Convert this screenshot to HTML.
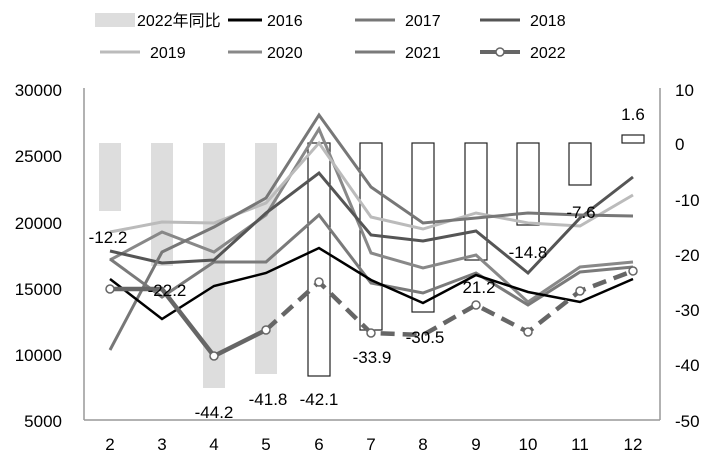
<!DOCTYPE html>
<html><head><meta charset="utf-8"><style>
html,body{margin:0;padding:0;background:#fff;}
text{font-family:"Liberation Sans","Noto Sans CJK SC",sans-serif;}
</style></head><body>
<svg width="710" height="466" viewBox="0 0 710 466" xmlns="http://www.w3.org/2000/svg">
<!-- legend -->
<rect x="95" y="13" width="40" height="14" fill="#ddd"/>
<text x="137" y="26" font-size="16">2022年同比</text>
<line x1="228" y1="20" x2="262" y2="20" stroke="#000" stroke-width="3"/>
<text x="267" y="26" font-size="16">2016</text>
<line x1="355" y1="20" x2="395" y2="20" stroke="#777" stroke-width="3"/>
<text x="405" y="26" font-size="16">2017</text>
<line x1="480" y1="20" x2="520" y2="20" stroke="#555" stroke-width="3"/>
<text x="530" y="26" font-size="16">2018</text>
<line x1="100" y1="52" x2="140" y2="52" stroke="#bbb" stroke-width="3"/>
<text x="150" y="58" font-size="16">2019</text>
<line x1="228" y1="52" x2="262" y2="52" stroke="#888" stroke-width="3"/>
<text x="267" y="58" font-size="16">2020</text>
<line x1="355" y1="52" x2="395" y2="52" stroke="#7a7a7a" stroke-width="3"/>
<text x="405" y="58" font-size="16">2021</text>
<line x1="480" y1="52" x2="520" y2="52" stroke="#666" stroke-width="4"/>
<circle cx="500" cy="52" r="4" fill="#fff" stroke="#666" stroke-width="1.5"/>
<text x="530" y="58" font-size="16">2022</text>

<!-- axes -->
<line x1="84" y1="88" x2="84" y2="420" stroke="#999" stroke-width="1.5"/>
<line x1="84" y1="420" x2="660" y2="420" stroke="#999" stroke-width="1.5"/>
<line x1="660" y1="88" x2="660" y2="420" stroke="#999" stroke-width="1.5"/>
<g font-size="17" text-anchor="end">
<text x="62" y="96">30000</text><text x="62" y="162">25000</text><text x="62" y="229">20000</text>
<text x="62" y="295">15000</text><text x="62" y="361">10000</text><text x="62" y="427">5000</text>
</g>
<g font-size="17" text-anchor="start">
<text x="675" y="96">10</text><text x="675" y="150">0</text><text x="675" y="206">-10</text>
<text x="675" y="261">-20</text><text x="675" y="316">-30</text><text x="675" y="371">-40</text><text x="675" y="427">-50</text>
</g>
<g font-size="17" text-anchor="middle">
<text x="110" y="450">2</text><text x="162" y="450">3</text><text x="214" y="450">4</text><text x="266" y="450">5</text>
<text x="319" y="450">6</text><text x="371" y="450">7</text><text x="423" y="450">8</text><text x="476" y="450">9</text>
<text x="528" y="450">10</text><text x="580" y="450">11</text><text x="633" y="450">12</text>
</g>

<!-- bars -->
<g fill="#ddd">
<rect x="99" y="143" width="22" height="68"/>
<rect x="151" y="143" width="22" height="123"/>
<rect x="203" y="143" width="22" height="245"/>
<rect x="255" y="143" width="22" height="231"/>
</g>
<g fill="#fff" stroke="#222" stroke-width="1.2">
<rect x="308" y="143" width="22" height="233"/>
<rect x="360" y="143" width="22" height="187"/>
<rect x="412" y="143" width="22" height="169"/>
<rect x="465" y="143" width="22" height="117"/>
<rect x="517" y="143" width="22" height="82"/>
<rect x="569" y="143" width="22" height="42"/>
<rect x="622" y="135" width="22" height="8"/>
</g>

<!-- lines -->
<g fill="none" stroke-width="3" stroke-linejoin="miter">
<polyline stroke="#888" points="110,260 162,232 214,252 266,215 319,129 371,253 423,268 476,255 528,302 580,267 633,262"/>
<polyline stroke="#7a7a7a" points="110,259 162,297 214,262 266,262 319,215 371,283 423,293 476,273 528,305 580,272 633,267"/>
<polyline stroke="#bbb" points="110,232 162,222 214,223 266,203 319,143 371,217 423,229 476,213 528,223 580,226 633,195"/>
<polyline stroke="#555" points="110,251 162,263 214,260 266,213 319,173 371,235 423,241 476,231 528,273 580,218 633,177"/>
<polyline stroke="#777" points="110,350 162,252 214,227 266,198 319,115 371,187 423,223 476,218 528,213 580,215 633,216"/>
<polyline stroke="#000" stroke-width="2.5" points="110,279 162,319 214,286 266,273 319,248 371,280 423,303 476,275 528,292 580,302 633,279"/>
<polyline stroke="#666" stroke-width="4.5" points="110,289 162,289 214,356 266,330"/>
<polyline stroke="#666" stroke-width="4.5" stroke-dasharray="14,8" points="266,330 319,282 371,333 423,335 476,305 528,332 580,291 633,271"/>
</g>
<g fill="#fff" stroke="#666" stroke-width="1.5">
<circle cx="110" cy="289" r="4"/><circle cx="214" cy="356" r="4"/><circle cx="266" cy="330" r="4"/>
<circle cx="319" cy="282" r="4"/><circle cx="371" cy="333" r="4"/><circle cx="476" cy="305" r="4"/>
<circle cx="528" cy="332" r="4"/><circle cx="580" cy="291" r="4"/><circle cx="633" cy="271" r="4"/>
</g>

<!-- data labels -->
<g font-size="17" text-anchor="middle">
<text x="108" y="243">-12.2</text>
<text x="167" y="296">-22.2</text>
<text x="214" y="418">-44.2</text>
<text x="268" y="405">-41.8</text>
<text x="319" y="405">-42.1</text>
<text x="372" y="363">-33.9</text>
<text x="425" y="343">-30.5</text>
<text x="479" y="293">21.2</text>
<text x="528" y="258">-14.8</text>
<text x="581" y="218">-7.6</text>
<text x="633" y="120">1.6</text>
</g>
</svg>
</body></html>
